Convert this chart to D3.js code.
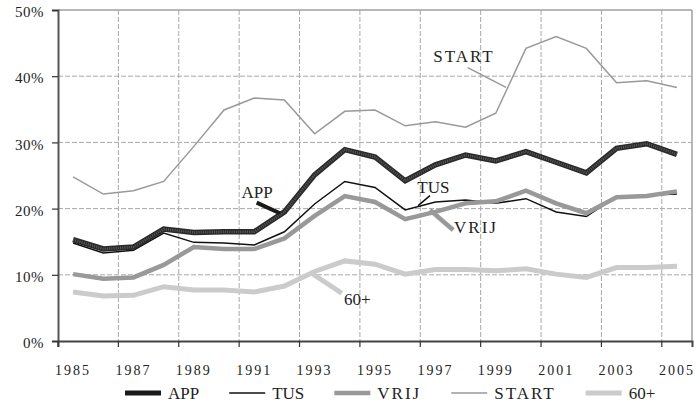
<!DOCTYPE html>
<html><head><meta charset="utf-8">
<script src="https://cdn.jsdelivr.net/npm/d3@7/dist/d3.min.js"></script>
<style>
body{margin:0;background:#fff}
text{font-family:"Liberation Serif","DejaVu Serif",serif;fill:#222}
</style>
</head><body>
<svg id="c" width="697" height="407"></svg>
<script>
const years = [1985,1986,1987,1988,1989,1990,1991,1992,1993,1994,1995,1996,1997,1998,1999,2000,2001,2002,2003,2004,2005];
const appValues   = [15.3,13.9,14.2,16.9,16.4,16.5,16.5,19.5,25.1,28.9,27.8,24.2,26.6,28.1,27.2,28.6,27.0,25.4,29.1,29.8,28.2];
const tusValues   = [14.8,13.3,13.7,16.3,14.9,14.8,14.5,16.5,20.7,24.1,23.2,19.8,21.0,21.3,20.8,21.5,19.5,18.8,21.8,22.0,22.2];
const vrijValues  = [10.1,9.4,9.6,11.5,14.2,13.9,13.9,15.5,18.9,21.9,21.0,18.4,19.5,20.8,21.1,22.7,20.8,19.3,21.7,21.9,22.6];
const startValues = [24.8,22.2,22.7,24.1,29.4,34.9,36.7,36.4,31.3,34.7,34.9,32.5,33.1,32.3,34.4,44.2,46.0,44.2,39.0,39.3,38.3];
const sixtyValues = [7.4,6.8,6.9,8.2,7.7,7.7,7.4,8.3,10.5,12.1,11.6,10.1,10.8,10.8,10.6,10.9,10.1,9.6,11.1,11.1,11.3];
const yTicks = [0,10,20,30,40,50];
const xLabelYears = [1985,1987,1989,1991,1993,1995,1997,1999,2001,2003,2005];

const seriesNames = ["START","60+","TUS","VRIJ","APP"];
const seriesData = {"APP":appValues,"TUS":tusValues,"VRIJ":vrijValues,"START":startValues,"60+":sixtyValues};
const legendOrder = ["APP","TUS","VRIJ","START","60+"];
const style = {
  "APP":  {stroke:"#2a2a2a", width:5.5, texture:true},
  "TUS":  {stroke:"#111", width:1.5},
  "VRIJ": {stroke:"#999", width:4.5},
  "START":{stroke:"#999", width:1.5},
  "60+":  {stroke:"#cbcbcb", width:5}
};
// annotations in data units: label at (year,value), leader from (y1,v1) to (y2,v2)
const annotations = [
  {name:"START", ty:1996.93, tv:42.1, l:[[1998.07,41.3],[1999.34,38.3]]},
  {name:"APP",   ty:1990.58, tv:21.56, l:[[1991.08,20.9],[1991.85,19.3]]},
  {name:"TUS",   ty:1996.40, tv:22.4, l:[[1996.82,21.95],[1996.43,20.44]]},
  {name:"VRIJ",  ty:1997.62, tv:16.36, l:[[1996.82,19.79],[1997.59,16.77]]},
  {name:"60+",   ty:1993.97, tv:5.44, l:[[1992.90,10.23],[1993.90,7.21]]}
];

const L=58, R=692, T=10, B=341;
const svg = d3.select("#c");
const xb = d3.scaleBand().domain(years).range([L,R]).padding(0);
const bw = xb.bandwidth();
const x = d3.scaleLinear().domain([years[0], years[years.length-1]]).range([xb(years[0])+bw/2, xb(years[years.length-1])+bw/2]);
const y = d3.scaleLinear().domain([0,50]).range([B,T]);

// horizontal grid
svg.append("g").selectAll("line").data(yTicks.filter(d=>d>0 && d<50)).join("line")
  .attr("x1",L).attr("x2",R).attr("y1",d=>y(d)).attr("y2",d=>y(d))
  .attr("stroke","#a8a8a8").attr("stroke-width",1).attr("stroke-dasharray","5,2");
// vertical grid at every second category boundary
const gridYears = years.filter((d,i)=>i%2===0 && i>0);
svg.append("g").selectAll("line").data(gridYears).join("line")
  .attr("x1",d=>xb(d)).attr("x2",d=>xb(d)).attr("y1",T).attr("y2",B)
  .attr("stroke","#a8a8a8").attr("stroke-width",1).attr("stroke-dasharray","5,2");
// top & right border
svg.append("line").attr("x1",L).attr("x2",R).attr("y1",y(50)).attr("y2",y(50)).attr("stroke","#a0a0a0").attr("stroke-width",1.5);
svg.append("line").attr("x1",R).attr("x2",R).attr("y1",T).attr("y2",B).attr("stroke","#a0a0a0").attr("stroke-width",1.5);

// y axis
const yAxis = d3.axisLeft(y).tickValues(yTicks).tickSize(6).tickFormat(d=>d+"%");
const gy = svg.append("g").attr("transform",`translate(${L},0)`).call(yAxis);
gy.select(".domain").attr("stroke","#555").attr("stroke-width",2);
gy.selectAll(".tick line").attr("stroke","#333").attr("stroke-width",1.2);
gy.selectAll(".tick text").attr("x",-14).attr("dy","0.45em").style("font-size","15px").style("letter-spacing","0.5px")
  .style("font-family",'"Liberation Serif",serif').attr("fill","#333");

// x axis
const xAxis = d3.axisBottom(xb).tickValues(years.filter((d,i)=>i%2===0)).tickSize(6).tickFormat(d=>d);
const gx = svg.append("g").attr("transform",`translate(0,${B})`).call(xAxis);
gx.select(".domain").attr("stroke","#444").attr("stroke-width",2);
gx.selectAll(".tick line").attr("stroke","#333").attr("stroke-width",1.2).attr("transform",`translate(${-bw/2},0)`);
gx.selectAll(".tick text").attr("y",24).style("font-size","14px").style("letter-spacing","2px")
  .style("font-family",'"Liberation Serif",serif').attr("fill","#333");

// lines
const line = d3.line().x((d,i)=>x(years[i])).y(d=>y(d));
seriesNames.forEach(n=>{
  const s=style[n];
  svg.append("path").datum(seriesData[n]).attr("d",line).attr("fill","none")
    .attr("stroke",s.stroke).attr("stroke-width",s.width).attr("stroke-linejoin","miter");
  if(s.texture){
    svg.append("path").datum(seriesData[n]).attr("d",line).attr("fill","none")
      .attr("stroke","#5a5a5a").attr("stroke-width",2.5).attr("stroke-dasharray","1,1.2");
  }
});

// annotations
annotations.forEach(a=>{
  const s=style[a.name];
  svg.append("line").attr("x1",x(a.l[0][0])).attr("y1",y(a.l[0][1])).attr("x2",x(a.l[1][0])).attr("y2",y(a.l[1][1]))
    .attr("stroke", a.name==="APP" ? "#1a1a1a" : s.stroke).attr("stroke-width", a.name==="APP"?4:s.width);
  svg.append("text").attr("x",x(a.ty)).attr("y",y(a.tv)).text(a.name)
    .style("font-size","17px").style("letter-spacing", (a.name==="START"||a.name==="VRIJ")?"2px":"0px");
});

// legend
const lg = svg.append("g");
let lx = 125;
legendOrder.forEach(n=>{
  const s=style[n];
  lg.append("line").attr("x1",lx).attr("x2",lx+36).attr("y1",393).attr("y2",393)
    .attr("stroke", n==="APP"?"#1a1a1a":s.stroke).attr("stroke-width", n==="APP"?5:s.width);
  const t = lg.append("text").attr("x",lx+43).attr("y",399).text(n).style("font-size","17px")
    .style("letter-spacing",(n==="START"||n==="VRIJ")?"2px":"0px");
  lx += 43 + t.node().getComputedTextLength() + 30;
});
</script>
</body></html>
